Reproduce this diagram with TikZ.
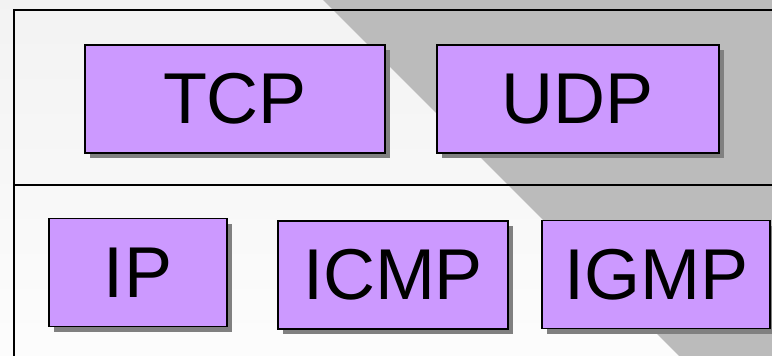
\documentclass[tikz,border=0pt]{standalone}
\usepackage{fontspec}
\setmainfont{Liberation Sans}
\usetikzlibrary{shadows}
\definecolor{protofill}{HTML}{CC99FF}
\definecolor{bandgray}{HTML}{BBBBBB}

\begin{document}
\begin{tikzpicture}[x = 1pt, y = -1pt,
        proto/.style = {draw, line width = 1.6pt, fill = protofill, inner sep = 0pt,
            minimum height = 108pt, font = \fontsize{72}{72}\selectfont,
            drop shadow = {shadow xshift = 5pt, shadow yshift = -5pt, fill = black!50, opacity = 1}},
        frameline/.style = {line width = 2pt}]
            \useasboundingbox (0,0) rectangle (772,356);
            \shade[top color = black!5, bottom color = black!1] (0,0) rectangle (772,356);
            \fill[bandgray] (323,0) -- (772,0) -- (772,356) -- (679,356) -- cycle;

            \draw[frameline] (14,356) -- (14,10) -- (772,10);
            \draw[frameline] (14,185) -- (772,185);

            \node[proto, minimum width = 300pt] (tcp) at (235,99) {TCP};
            \node[proto, minimum width = 282pt] (udp) at (578,99) {UDP};
            \node[proto, minimum width = 178pt] (ip) at (138,272.5) {IP};
            \node[proto, minimum width = 230pt] (icmp) at (393,275) {ICMP};
            \node[proto, minimum width = 228pt] (igmp) at (656,274.5) {IGMP};
        \end{tikzpicture}
\end{document}
